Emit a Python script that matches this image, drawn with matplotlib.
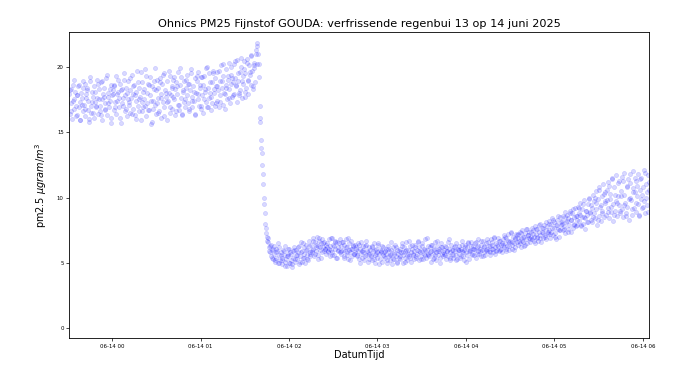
import matplotlib
matplotlib.use("Agg")
import matplotlib.pyplot as plt
import matplotlib.dates as mdates
import pandas as pd

# pm2.5 readings sensor A, one every 30 s starting 2025-06-13 23:31:00
pm25_a = [
    # 23:31
    17.9, 16.4, 18.3, 17.2, 16.0, 18.6, 17.5, 16.8, 18.1, 17.0, 16.3, 17.8, 18.5, 16.9, 17.3, 15.9, 18.0, 17.6, 16.6, 18.4,
    17.1, 18.7, 16.2, 17.9, 18.2, 16.7, 17.4, 15.8, 18.9, 17.0, 16.5, 18.1, 17.7, 16.1, 18.5, 17.3, 16.9, 19.0, 17.6, 16.4,
    18.3, 17.0, 16.6, 18.8, 17.5, 15.9, 17.9, 18.4, 16.8, 17.2, 19.1, 16.3, 17.7, 18.0, 16.9, 17.4, 18.6, 16.1, 17.8, 18.2,
    # 00:01
    16.7, 18.5, 17.3, 19.3, 16.4, 17.9, 18.1, 16.9, 17.6, 18.7, 15.7, 17.2, 18.3, 17.0, 19.0, 16.6, 17.8, 18.4, 16.2, 17.5,
    18.9, 17.1, 16.5, 18.2, 17.6, 19.4, 16.8, 17.9, 18.6, 16.3, 17.4, 18.1, 19.7, 17.0, 16.6, 18.4, 17.7, 15.9, 18.8, 17.3,
    16.9, 18.3, 17.5, 19.8, 16.2, 18.0, 17.2, 18.7, 16.7, 19.2, 17.8, 15.6, 18.5, 17.4, 16.8, 18.9, 17.1, 18.2, 16.4, 19.0,
    17.6, 18.4, 16.6, 19.1, 17.9, 16.1, 18.7, 17.3, 19.5, 16.9, 18.2, 17.7, 15.9, 18.9, 17.4, 18.0, 16.5, 19.3, 17.8, 18.5,
    16.8, 19.0, 17.5, 18.3, 16.3, 18.8, 17.9, 19.6, 17.1, 16.7, 18.6, 17.6, 19.2, 16.4, 18.1, 17.3, 18.9, 16.9, 18.4, 17.8,
    19.4, 17.2, 18.7, 16.6, 18.2, 19.8, 17.7, 16.9, 18.5, 17.4, 19.1, 16.3, 18.0, 18.9, 17.5, 19.6, 17.0, 18.4, 16.8, 19.2,
    # 01:01
    17.8, 18.6, 16.5, 19.3, 18.1, 17.3, 19.9, 16.9, 18.4, 17.6, 19.5, 18.0, 16.7, 18.8, 17.2, 19.7, 18.3, 17.0, 19.1, 18.5,
    17.4, 19.6, 18.2, 16.9, 18.9, 17.8, 20.1, 18.4, 17.1, 19.3, 18.0, 16.8, 19.8, 18.6, 17.5, 19.0, 18.3, 20.3, 17.2, 18.7,
    19.4, 17.7, 18.8, 20.2, 17.9, 19.1, 18.5, 17.3, 20.5, 18.9, 17.8, 19.6, 18.2, 20.0, 17.6, 19.3, 18.7, 20.4, 18.1, 19.5,
    18.4, 20.6, 19.0, 17.9, 20.1, 19.4, 18.6, 20.8, 19.7, 18.3, 20.3, 19.9, 18.8, 21.0, 20.2, 21.6,
    # 01:39 regenbui
    21.0, 19.2, 17.0, 15.8, 14.4, 13.4, 12.5, 11.0, 10.0, 8.8, 8.0, 7.3,
    # 01:45
    7.0, 6.6, 6.9, 6.2, 5.8, 6.4, 5.5, 6.0, 5.3, 6.3, 5.7, 5.1, 6.1, 5.4, 5.9, 5.0, 5.6, 6.2, 5.2, 5.8,
    5.4, 4.9, 6.0, 5.6, 5.1, 6.3, 5.3, 4.8, 5.7, 5.5, 6.1, 5.0, 5.8, 5.2, 4.7, 5.9, 5.4, 6.2, 5.1, 5.6,
    6.0, 5.3, 5.8, 4.9, 6.3, 5.5, 6.6, 5.1, 5.9, 5.4, 6.2, 5.7, 5.0, 6.4, 5.6, 6.0, 5.2, 6.7, 5.8, 5.5,
    6.4, 5.8, 6.9, 6.1, 5.5, 6.6, 6.2, 5.9, 7.0, 6.3, 5.6, 6.7, 6.0, 6.5, 5.4, 6.8, 6.2, 5.9, 6.6, 6.1,
    5.7, 6.5, 6.2, 5.9, 6.8, 5.5, 6.3, 6.0, 6.9, 5.8, 6.4, 5.6, 6.7, 6.1, 5.4, 6.6, 6.2, 5.9, 6.5, 5.8,
    6.3, 5.7, 6.6, 6.0, 5.4, 6.4, 5.9, 6.8, 5.6, 6.2, 5.3, 6.5, 6.0, 5.8, 6.7, 5.5, 6.1, 6.3, 5.7, 6.4,
    5.8, 6.2, 5.5, 6.5, 5.9, 5.3, 6.1, 5.7, 6.6, 5.4, 6.0, 5.8, 5.2, 6.3, 5.6, 6.4, 5.9, 5.1, 6.2, 5.7,
    # 02:55
    6.0, 5.5, 6.3, 5.2, 5.9, 6.5, 5.6, 5.0, 6.1, 5.8, 5.4, 6.4, 5.7, 5.3, 6.0, 5.9, 5.1, 6.2, 5.6, 5.8,
    5.4, 6.1, 5.7, 5.0, 6.3, 5.5, 5.9, 5.2, 6.0, 5.6, 4.9, 6.2, 5.8, 5.3, 6.4, 5.5, 5.1, 6.0, 5.7, 5.4,
    6.1, 5.3, 5.8, 6.5, 5.0, 5.6, 6.2, 5.4, 5.9, 6.6, 5.2, 5.7, 6.0, 5.5, 6.3, 5.1, 5.8, 6.4, 5.6, 5.3,
    5.9, 6.4, 5.4, 6.0, 5.7, 6.7, 5.2, 6.2, 5.8, 5.5, 6.5, 5.9, 5.3, 6.1, 5.6, 6.8, 5.4, 6.0, 5.7, 6.3,
    5.5, 6.2, 5.9, 5.1, 6.4, 5.7, 6.0, 5.4, 6.6, 5.8, 5.2, 6.3, 5.6, 6.1, 5.9, 5.0, 6.5, 5.7, 6.2, 5.5,
    6.0, 5.6, 6.3, 5.3, 5.9, 6.6, 5.5, 6.1, 5.8, 5.2, 6.4, 5.7, 6.0, 5.4, 6.2, 5.9, 5.6, 6.5, 5.3, 6.0,
    # 03:55
    5.7, 6.3, 5.4, 6.1, 5.9, 6.7, 5.5, 6.0, 5.2, 6.4, 5.8, 6.2, 5.6, 6.5, 5.3, 6.0, 5.9, 6.6, 5.7, 6.1,
    6.3, 5.6, 6.0, 6.6, 5.4, 6.2, 5.9, 6.8, 5.7, 6.1, 6.4, 5.5, 6.0, 6.7, 5.8, 6.3, 5.6, 6.5, 6.1, 5.9,
    6.6, 5.9, 6.3, 5.6, 6.8, 6.1, 6.4, 5.8, 7.0, 6.2, 5.7, 6.5, 6.0, 6.9, 6.3, 5.9, 6.7, 6.1, 6.4, 5.8,
    6.8, 6.2, 7.1, 6.5, 5.9, 6.9, 6.3, 7.2, 6.6, 6.0, 6.7, 7.3, 6.4, 6.1, 7.0, 6.5, 6.8, 6.2, 7.2, 6.6,
    6.4, 7.2, 6.7, 7.4, 6.2, 6.9, 7.5, 6.6, 7.0, 6.3, 7.3, 6.8, 7.6, 6.5, 7.1, 6.9, 7.4, 6.6, 7.0, 7.7,
    6.8, 7.5, 7.0, 6.5, 7.8, 7.2, 6.9, 7.6, 6.7, 7.4, 8.0, 7.1, 6.6, 7.7, 7.3, 6.9, 7.9, 7.0, 7.5, 6.8,
    # 04:55
    7.8, 7.2, 8.2, 7.5, 6.9, 8.0, 7.4, 8.4, 7.1, 7.7, 8.1, 7.3, 6.8, 7.9, 8.3, 7.6, 7.0, 8.5, 7.5, 7.9,
    8.2, 7.5, 8.6, 7.8, 8.9, 7.3, 8.1, 8.7, 7.6, 8.4, 7.9, 9.0, 7.4, 8.3, 8.8, 7.7, 8.5, 8.0, 9.2, 7.8,
    8.6, 7.9, 9.3, 8.2, 8.8, 9.6, 7.8, 8.5, 9.1, 8.0, 9.8, 8.4, 7.6, 9.0, 8.7, 9.5, 8.1, 10.0, 8.9, 8.3,
    9.4, 8.1, 10.2, 8.8, 9.7, 8.4, 10.5, 9.1, 7.9, 9.9, 8.6, 10.8, 9.3, 8.2, 10.1, 9.0, 11.0, 8.5, 9.6, 10.4,
    8.7, 10.6, 9.2, 11.2, 8.4, 9.9, 10.3, 8.9, 11.5, 9.5, 8.2, 10.8, 9.0, 11.7, 9.7, 8.6, 10.1, 11.3, 9.4, 8.8,
    10.5, 9.1, 11.6, 8.5, 10.2, 11.9, 9.6, 8.8, 10.9, 9.3, 11.4, 8.3, 10.0, 11.1, 9.8, 8.7, 10.7, 12.0, 9.2, 10.4,
    # 05:55
    8.9, 11.3, 10.1, 9.5, 11.8, 8.6, 10.6, 9.9, 11.5, 9.2, 10.8, 12.1, 9.7, 8.8, 11.0, 10.4, 9.4, 11.7, 10.6,
]

# extra readings in between, one per minute starting 23:31:20
pm25_b = [
    18.2, 16.6, 17.4, 19.0, 16.2, 17.8, 18.6, 15.9, 17.1, 18.9,
    16.8, 17.6, 18.4, 16.0, 19.2, 17.3, 16.5, 18.1, 17.0, 18.7,
    17.5, 16.3, 18.9, 17.7, 16.7, 19.4, 17.2, 18.3, 15.7, 17.9,
    # 00:01
    18.6, 16.9, 17.4, 19.0, 16.1, 18.2, 17.6, 19.5, 16.8, 18.0,
    17.3, 19.1, 16.4, 18.5, 17.8, 16.0, 18.8, 17.5, 19.6, 16.6,
    18.1, 17.0, 19.3, 16.7, 18.6, 17.4, 15.8, 18.3, 19.9, 17.2,
    16.5, 18.8, 17.6, 19.4, 16.2, 18.0, 17.3, 19.7, 16.9, 18.4,
    17.7, 19.2, 16.6, 18.5, 17.1, 19.9, 16.3, 18.2, 17.5, 19.0,
    18.7, 16.8, 19.5, 17.4, 18.1, 16.4, 19.3, 17.9, 18.6, 17.0,
    # 01:01
    19.2, 17.5, 18.3, 20.0, 16.9, 18.8, 17.7, 19.5, 18.0, 17.2,
    18.5, 19.7, 17.3, 18.9, 20.2, 17.9, 18.4, 19.3, 17.6, 20.0,
    19.1, 17.8, 20.4, 18.6, 19.5, 18.0, 20.7, 18.9, 19.8, 17.7,
    20.3, 18.9, 19.6, 20.9, 18.5, 20.1, 21.3, 21.8,
    # 01:39 regenbui
    20.2, 16.1, 13.8, 11.8, 9.5, 7.7,
    # 01:45
    6.7, 5.9, 6.3, 5.4, 6.1, 5.2, 5.8, 6.5, 5.0, 5.6,
    5.2, 5.9, 4.8, 5.5, 6.1, 5.0, 5.7, 4.9, 6.0, 5.3,
    5.6, 6.2, 5.1, 5.8, 6.5, 5.4, 6.0, 5.3, 6.3, 5.7,
    6.0, 6.7, 5.7, 6.4, 5.3, 6.9, 6.2, 5.8, 6.5, 6.1,
    6.4, 5.8, 6.1, 6.9, 5.6, 6.3, 6.6, 5.4, 6.0, 6.8,
    5.9, 6.6, 5.5, 6.2, 5.8, 6.9, 5.2, 6.1, 6.4, 5.7,
    6.1, 5.6, 6.4, 5.0, 5.9, 6.3, 5.5, 6.7, 5.8, 5.3,
    # 02:55
    5.6, 6.2, 5.3, 6.0, 5.7, 6.5, 4.9, 5.8, 6.3, 5.5,
    5.9, 5.2, 6.1, 5.6, 6.6, 5.3, 5.7, 6.2, 5.0, 5.9,
    5.5, 6.3, 5.8, 5.1, 6.0, 5.6, 6.7, 5.4, 6.1, 5.7,
    6.2, 5.5, 6.6, 5.9, 5.3, 6.3, 5.7, 6.0, 6.9, 5.6,
    5.8, 6.4, 5.3, 6.1, 5.6, 6.7, 5.9, 5.4, 6.2, 5.8,
    5.7, 6.2, 5.9, 6.8, 5.4, 6.0, 5.6, 6.3, 5.2, 6.1,
    # 03:55
    6.0, 5.5, 6.4, 5.8, 6.2, 5.1, 6.6, 5.9, 6.3, 5.6,
    6.1, 6.5, 5.7, 6.3, 5.9, 6.7, 5.5, 6.2, 6.0, 6.8,
    6.3, 5.8, 6.6, 6.1, 6.9, 5.9, 6.4, 6.7, 6.0, 6.5,
    6.4, 7.0, 6.1, 6.7, 6.3, 7.4, 6.6, 6.0, 6.9, 7.1,
    6.9, 6.5, 7.3, 6.7, 7.0, 6.4, 7.6, 7.1, 6.8, 7.4,
    7.2, 6.7, 7.6, 7.0, 7.9, 6.9, 7.4, 7.7, 7.1, 8.1,
    # 04:55
    7.4, 8.0, 7.2, 7.7, 8.3, 7.0, 7.9, 8.6, 7.5, 8.1,
    8.0, 7.6, 8.5, 8.2, 7.4, 8.8, 8.3, 9.1, 7.9, 8.6,
    8.3, 9.2, 8.7, 7.9, 9.5, 8.5, 9.0, 8.1, 9.9, 8.8,
    9.2, 8.5, 10.0, 9.6, 8.3, 10.6, 9.4, 8.8, 10.3, 9.7,
    9.8, 8.9, 10.9, 9.3, 11.4, 8.7, 10.2, 9.6, 11.1, 9.0,
    10.1, 11.3, 9.4, 8.6, 10.8, 9.9, 11.8, 9.1, 10.4, 11.5,
    # 05:55
    9.6, 10.9, 8.7, 11.4, 10.2, 9.3, 11.9, 10.0, 8.9, 11.2,
]

tijd_a = pd.date_range("2025-06-13 23:31:00", periods=len(pm25_a), freq="30s")
tijd_b = pd.date_range("2025-06-13 23:31:20", periods=len(pm25_b), freq="60s")

tijd = tijd_a.append(tijd_b)
pm25 = pm25_a + pm25_b

fig = plt.figure(figsize=(6.9, 3.68), dpi=100)
ax = fig.add_axes([0.1004, 0.0807, 0.8406, 0.8315])

ax.scatter(tijd, pm25, s=9, color="blue", alpha=0.15, linewidths=0.5)

ax.set_xlim(tijd.min(), tijd.max())
ax.set_ylim(-0.76, 22.63)
ax.set_yticks([0, 5, 10, 15, 20])

ax.xaxis.set_major_locator(mdates.HourLocator())
ax.xaxis.set_major_formatter(mdates.DateFormatter("%m-%d %H"))

ax.tick_params(labelsize=3.9, length=2, width=0.5, pad=2)
for sp in ax.spines.values():
    sp.set_linewidth(0.6)

ax.set_title("Ohnics PM25 Fijnstof GOUDA: verfrissende regenbui 13 op 14 juni 2025", fontsize=8.1, pad=4)
ax.set_xlabel("DatumTijd", fontsize=7, labelpad=1)
ax.set_ylabel(r"pm2.5 $\mu gram/m^3$", fontsize=7, labelpad=6)

fig.savefig("out.png", dpi=100)
